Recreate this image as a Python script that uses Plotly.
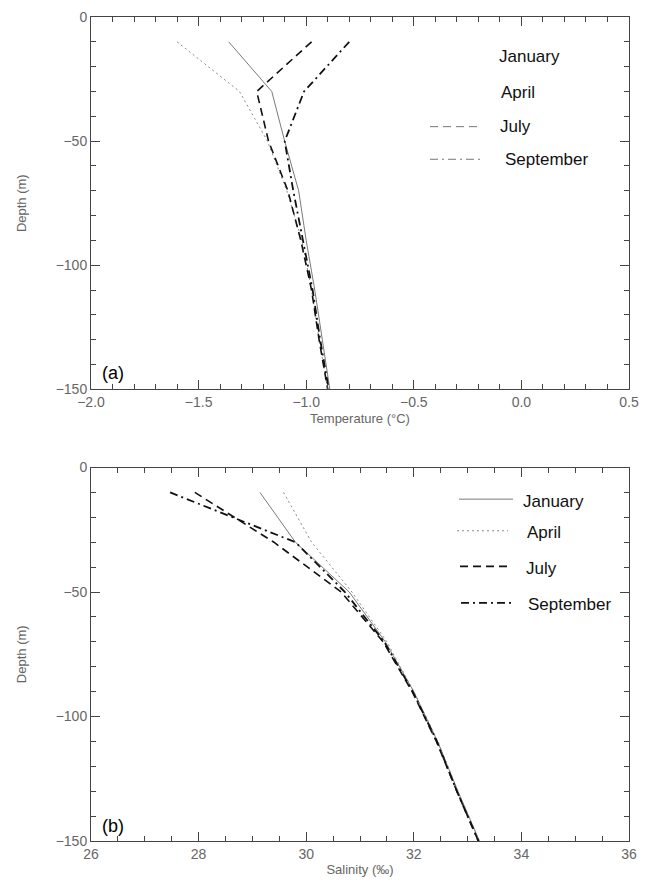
import plotly.graph_objects as go

# ---------------- data ----------------
depth = [-10, -30, -50, -70, -90, -110, -130, -150]

temp_january = [-1.36, -1.16, -1.10, -1.035, -1.00, -0.96, -0.925, -0.89]
temp_april = [-1.60, -1.31, -1.18, -1.09, -1.02, -0.975, -0.94, -0.90]
temp_july = [-0.975, -1.23, -1.175, -1.085, -1.025, -0.975, -0.94, -0.90]
temp_september = [-0.80, -1.01, -1.10, -1.06, -1.015, -0.97, -0.935, -0.895]

sal_january = [29.14, 29.80, 30.80, 31.47, 32.00, 32.44, 32.82, 33.22]
sal_april = [29.58, 30.10, 30.85, 31.50, 32.00, 32.45, 32.82, 33.22]
sal_july = [27.93, 29.40, 30.65, 31.43, 31.97, 32.42, 32.80, 33.20]
sal_september = [27.47, 29.80, 30.72, 31.45, 31.98, 32.43, 32.80, 33.20]

months = ["January", "April", "July", "September"]

# ---------------- styles ----------------
styles = {
    "January": dict(color="#7a7a7a", width=1, dash="solid"),
    "April": dict(color="#8a8a8a", width=1, dash="2px,3px"),
    "July": dict(color="#111111", width=1.6, dash="8px,5px"),
    "September": dict(color="#111111", width=1.8, dash="8px,4px,2px,4px"),
}

W, H = 650, 884
L, R, T, B = 91, 21, 9, 41
PW, PH = W - L - R, H - T - B


def px(x):
    return (x - L) / PW


def py(y):
    return (H - B - y) / PH


fig = go.Figure()

temps = dict(January=temp_january, April=temp_april, July=temp_july, September=temp_september)
sals = dict(January=sal_january, April=sal_april, July=sal_july, September=sal_september)

for m in months:
    fig.add_trace(go.Scatter(x=temps[m], y=depth, mode="lines", line=styles[m],
                             xaxis="x", yaxis="y", showlegend=False, name=m))
for m in months:
    fig.add_trace(go.Scatter(x=sals[m], y=depth, mode="lines", line=styles[m],
                             xaxis="x2", yaxis="y2", showlegend=False, name=m))

tickfont = dict(family="Liberation Sans, Arial, sans-serif", size=14, color="#666666")
titlefont = dict(family="Liberation Sans, Arial, sans-serif", size=13, color="#666666")
axcol = "#444444"

common = dict(showline=True, linecolor=axcol, linewidth=1, mirror="ticks",
              ticks="inside", ticklen=9, tickwidth=1, tickcolor=axcol,
              showgrid=False, zeroline=False, tickfont=tickfont)

ydom_a = [py(386), 1.0]
ydom_b = [0.0, py(465)]

fig.update_layout(
    width=W, height=H,
    margin=dict(l=L, r=R, t=T, b=B),
    paper_bgcolor="white", plot_bgcolor="white",
    xaxis=dict(domain=[0, 1], anchor="y", range=[-2.0, 0.5], tick0=-2.0, dtick=0.5,
               tickformat=".1f",
               minor=dict(dtick=0.1, ticklen=5, ticks="inside", tickcolor=axcol),
               title=dict(text="Temperature (°C)", font=titlefont, standoff=4), **common),
    yaxis=dict(domain=ydom_a, anchor="x", range=[-150, 0], tick0=0, dtick=50,
               minor=dict(dtick=10, ticklen=5, ticks="inside", tickcolor=axcol),
               title=dict(text="Depth (m)", font=titlefont, standoff=26), **common),
    xaxis2=dict(domain=[0, 1], anchor="y2", range=[26, 36], tick0=26, dtick=2,
                minor=dict(dtick=0.5, ticklen=5, ticks="inside", tickcolor=axcol),
                title=dict(text="Salinity (‰)", font=titlefont, standoff=4), **common),
    yaxis2=dict(domain=ydom_b, anchor="x2", range=[-150, 0], tick0=0, dtick=50,
                minor=dict(dtick=10, ticklen=5, ticks="inside", tickcolor=axcol),
                title=dict(text="Depth (m)", font=titlefont, standoff=26), **common),
)

legfont = dict(family="Liberation Sans, Arial, sans-serif", size=17, color="#111111")
annotations = []
shapes = []

# panel labels
annotations.append(dict(text="(a)", x=px(100), y=py(369), xref="paper", yref="paper",
                        xanchor="left", yanchor="middle", showarrow=False,
                        font=dict(family="Liberation Sans, Arial, sans-serif", size=18, color="#000")))
annotations.append(dict(text="(b)", x=px(100), y=py(828), xref="paper", yref="paper",
                        xanchor="left", yanchor="middle", showarrow=False,
                        font=dict(family="Liberation Sans, Arial, sans-serif", size=18, color="#000")))

# legend panel (a): text positions, samples only for July/September
leg_a = [("January", 497, 49, None), ("April", 499, 85, None),
         ("July", 498, 120, (430, 480)), ("September", 503, 153, (430, 483))]
for name, tx, ty, samp in leg_a:
    annotations.append(dict(text=name, x=px(tx), y=py(ty), xref="paper", yref="paper",
                            xanchor="left", yanchor="middle", showarrow=False, font=legfont))
    if samp:
        st = dict(styles[name])
        st["color"] = "#777777"
        st["width"] = 1
        shapes.append(dict(type="line", xref="paper", yref="paper",
                           x0=px(samp[0]), x1=px(samp[1]), y0=py(ty), y1=py(ty), line=st))

leg_b = [("January", 521, 499, (459, 513)), ("April", 525, 531, (457, 508)),
         ("July", 524, 567, (460, 508)), ("September", 526, 604, (461, 513))]
for name, tx, ty, samp in leg_b:
    annotations.append(dict(text=name, x=px(tx), y=py(ty), xref="paper", yref="paper",
                            xanchor="left", yanchor="middle", showarrow=False, font=legfont))
    shapes.append(dict(type="line", xref="paper", yref="paper",
                       x0=px(samp[0]), x1=px(samp[1]), y0=py(ty - 2), y1=py(ty - 2),
                       line=styles[name]))

fig.update_layout(annotations=annotations, shapes=shapes)
fig.write_html("out.html", config={"displayModeBar": False},
               post_script="document.body.style.margin='0';document.body.style.overflow='hidden';")
